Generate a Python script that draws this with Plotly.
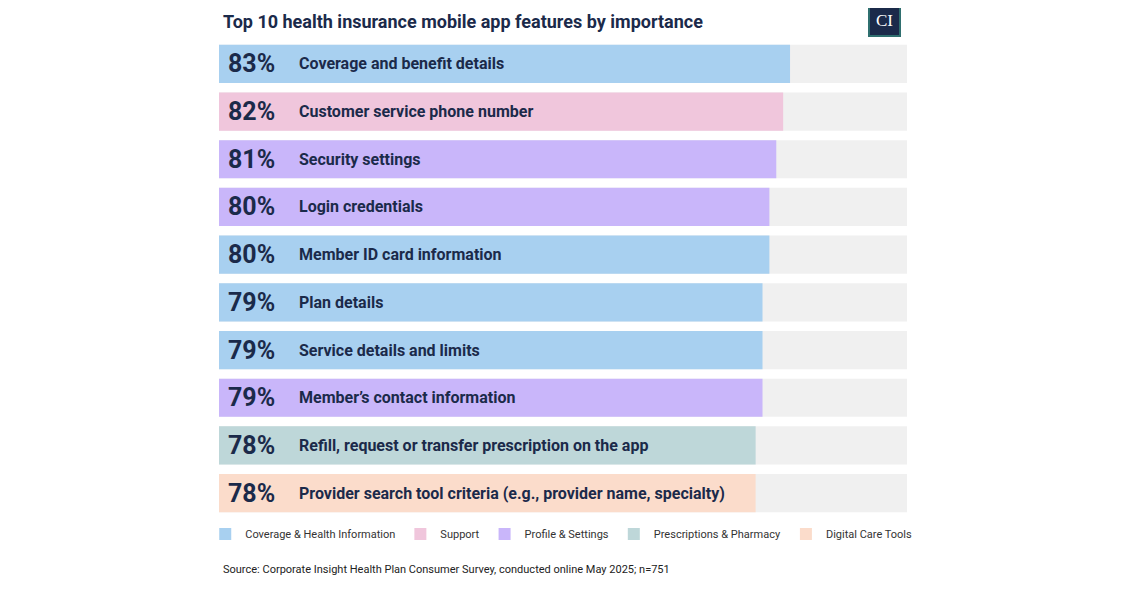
import plotly.graph_objects as go

features = ["Coverage and benefit details", "Customer service phone number", "Security settings",
            "Login credentials", "Member ID card information", "Plan details",
            "Service details and limits", "Member’s contact information",
            "Refill, request or transfer prescription on the app",
            "Provider search tool criteria (e.g., provider name, specialty)"]
values = [83, 82, 81, 80, 80, 79, 79, 79, 78, 78]
groups = ["Coverage & Health Information", "Support", "Profile & Settings", "Profile & Settings",
          "Coverage & Health Information", "Coverage & Health Information",
          "Coverage & Health Information", "Profile & Settings", "Prescriptions & Pharmacy",
          "Digital Care Tools"]
group_order = ["Coverage & Health Information", "Support", "Profile & Settings",
               "Prescriptions & Pharmacy", "Digital Care Tools"]
group_colors = {"Coverage & Health Information": "#a8d0f0", "Support": "#f0c6dc",
                "Profile & Settings": "#c9b6fa", "Prescriptions & Pharmacy": "#bed7d9",
                "Digital Care Tools": "#fbdccb"}

TXT = "#1b2a4a"
fig = go.Figure()
fig.add_trace(go.Bar(y=features, x=[100] * len(features), orientation="h",
                     marker=dict(color="#f0f0f0", line_width=0), width=0.8,
                     showlegend=False, hoverinfo="skip"))
for g in group_order:
    ys = [f for f, gg in zip(features, groups) if gg == g]
    xs = [v for v, gg in zip(values, groups) if gg == g]
    fig.add_trace(go.Bar(y=ys, x=xs, orientation="h", name=g, width=0.8,
                         marker=dict(color=group_colors[g], line_width=0)))
for f, v in zip(features, values):
    fig.add_annotation(x=1.0, y=f, text=f"<b>{v}%</b>", showarrow=False, xanchor="left",
                       font=dict(family="Roboto", size=25, color=TXT))
    fig.add_annotation(x=11.4, y=f, text=f"<b>{f}</b>", showarrow=False, xanchor="left",
                       font=dict(family="Roboto", size=16, color=TXT))

fig.add_annotation(xref="paper", yref="paper", x=0.003, y=1.0, yshift=19, yanchor="middle",
                   xanchor="left", showarrow=False, text="<b>Top 10 health insurance mobile app features by importance</b>",
                   font=dict(family="Roboto", size=18, color=TXT))
fig.add_annotation(xref="paper", yref="paper", x=0.003, y=0, yshift=-52, yanchor="middle",
                   xanchor="left", showarrow=False,
                   text="Source: Corporate Insight Health Plan Consumer Survey, conducted online May 2025; n=751",
                   font=dict(family="Roboto", size=11, color="#222"))
fig.add_shape(type="rect", xref="paper", yref="paper", x0=(869 - 219) / 688, x1=(900 - 219) / 688,
              y0=1 + 4 / 477, y1=1 + 35 / 477, fillcolor="#1b2a4a", line=dict(color="#2f6f6f", width=2))
fig.add_annotation(xref="paper", yref="paper", x=(884.5 - 219) / 688, y=1 + 19.5 / 477,
                   xanchor="center", yanchor="middle", showarrow=False,
                   text="CI", font=dict(family="Liberation Serif", size=17, color="white"))

fig.update_layout(
    width=1129, height=592, barmode="overlay", paper_bgcolor="white", plot_bgcolor="white",
    margin=dict(l=211, r=230, t=32, b=83), bargap=0.2,
    xaxis=dict(range=[0, 100], visible=False, fixedrange=True),
    yaxis=dict(autorange="reversed", visible=False, categoryorder="array", categoryarray=features),
    legend=dict(orientation="h", x=-0.02, y=-0.005, yanchor="top", yref="paper",
                font=dict(family="Roboto", size=11, color="#333"), traceorder="normal",
                itemwidth=30),
    font=dict(family="Roboto"),
)
fig.write_html("out.html")
